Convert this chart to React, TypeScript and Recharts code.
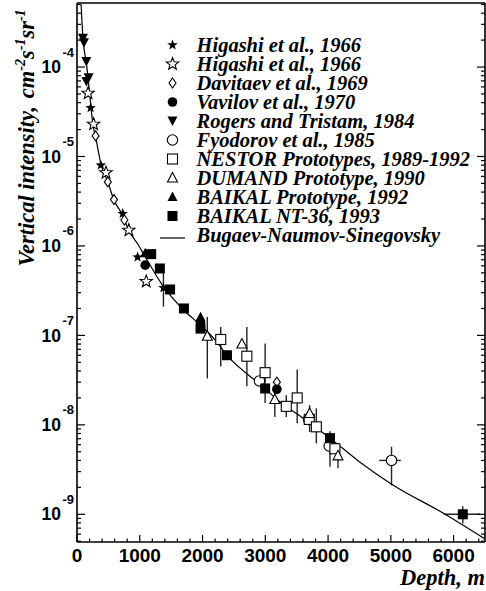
import React from 'react';
import { ComposedChart, XAxis, YAxis, Scatter, Line, ErrorBar } from 'recharts';

const W = 486;
const H = 591;
const SANS = '"Liberation Sans", Arial, Helvetica, sans-serif';
const SERIF = '"Liberation Serif", "Times New Roman", Times, serif';

// [depth m, intensity, yLow, yHigh, xLow, xHigh]
type Pt = [number, number, number?, number?, number?, number?];

const HIGASHI_A: Pt[] = [[217, 3.5e-5], [380, 8.0e-6], [728, 2.3e-6], [965, 7.5e-7], [1377, 3.4e-7, 2.1e-7, 5.0e-7]];
const HIGASHI_B: Pt[] = [[177, 5.1e-5], [264, 2.3e-5], [462, 6.6e-6], [826, 1.5e-6], [1103, 4.0e-7]];
const DAVITAEV: Pt[] = [[296, 1.7e-5], [491, 5.2e-6], [589, 3.3e-6], [755, 1.95e-6], [3184, 3.0e-8]];
const VAVILOV: Pt[] = [[1087, 6.1e-7], [1968, 1.4e-7], [3184, 2.5e-8]];
const ROGERS: Pt[] = [[95, 2.1e-4], [111, 1.87e-4], [149, 1.15e-4], [185, 7.6e-5], [150, 6.9e-5]];
const FYODOROV: Pt[] = [[2907, 3.1e-8], [3690, 1.15e-8], [4017, 5.8e-9], [5011, 4.0e-9, 2.1e-9, 5.7e-9, 4816, 5158]];
const NESTOR: Pt[] = [
  [2290, 9.0e-8, 4.5e-8, 1.24e-7], [2706, 5.85e-8, 2.7e-8, 1.24e-7], [2997, 3.83e-8, 1.75e-8, 8.1e-8],
  [3334, 1.61e-8, 1.22e-8, 2.14e-8], [3508, 2.0e-8, 1.04e-8, 4.16e-8], [3700, 1.15e-8],
  [3813, 9.5e-9, 6.2e-9, 1.53e-8], [4109, 5.4e-9],
];
const DUMAND: Pt[] = [
  [2076, 9.8e-8, 3.3e-8, 1.61e-7], [2627, 8.0e-8], [3152, 1.92e-8, 1.22e-8, 2.6e-8],
  [3706, 1.34e-8, 8.3e-9, 1.66e-8], [4158, 4.5e-9, 3.27e-9, 5.5e-9],
];
const BAIKAL_PROTO: Pt[] = [[1087, 8.3e-7], [1968, 1.6e-7]];
const BAIKAL_NT36: Pt[] = [
  [1182, 8.1e-7], [1320, 5.6e-7], [1483, 3.26e-7], [1704, 2.0e-7], [1968, 1.19e-7], [2389, 6.0e-8],
  [2997, 2.55e-8], [4030, 7.1e-9, 3.4e-9, 8.5e-9], [6146, 1.0e-9, 7.9e-10, 1.23e-9, 5845, 6419],
];

// Bugaev-Naumov-Sinegovsky curve
const CURVE_D = [65, 95, 150, 180, 220, 253, 300, 386, 491, 585, 728, 823, 968, 1071, 1361, 1704, 1968, 2206, 2389, 2997, 3206, 3508, 4030, 4472, 5000, 5845, 6500];
const CURVE_V = [5.0e-4, 2.1e-4, 1.1e-4, 7.2e-5, 3.7e-5, 2.3e-5, 1.6e-5, 8.0e-6, 5.2e-6, 3.3e-6, 2.2e-6, 1.5e-6, 1.05e-6, 7.9e-7, 3.65e-7, 1.91e-7, 1.3e-7, 8.8e-8, 6.0e-8, 2.55e-8, 1.87e-8, 1.32e-8, 7.1e-9, 4.0e-9, 2.2e-9, 1.02e-9, 5.3e-10];

const X_DOMAIN = [0, 6500];
const Y_DOMAIN = [4.9e-10, 5.2e-4];
const X_TICKS = Array.from({ length: 33 }, (_, i) => i * 200);
const Y_DECADES = [-10, -9, -8, -7, -6, -5, -4];
const Y_TICKS = Y_DECADES.flatMap((e) => [1, 2, 3, 4, 5, 6, 7, 8, 9].map((m) => m * Math.pow(10, e)))
  .filter((v) => v >= Y_DOMAIN[0] && v <= Y_DOMAIN[1]);

const LEGEND = [
  { kind: 'starF', label: 'Higashi et al., 1966' },
  { kind: 'starO', label: 'Higashi et al., 1966' },
  { kind: 'diamond', label: 'Davitaev et al., 1969' },
  { kind: 'circleF', label: 'Vavilov et al., 1970' },
  { kind: 'triDown', label: 'Rogers and Tristam, 1984' },
  { kind: 'circleO', label: 'Fyodorov et al., 1985' },
  { kind: 'squareO', label: 'NESTOR Prototypes, 1989-1992' },
  { kind: 'triO', label: 'DUMAND Prototype, 1990' },
  { kind: 'triF', label: 'BAIKAL Prototype, 1992' },
  { kind: 'squareF', label: 'BAIKAL NT-36, 1993' },
  { kind: 'line', label: 'Bugaev-Naumov-Sinegovsky' },
];

const toRows = (pts: Pt[]) =>
  pts.map(([d, v, lo, hi, xlo, xhi]) => ({
    d,
    v,
    ey: lo != null && hi != null ? [v - lo, hi - v] : undefined,
    ex: xlo != null && xhi != null ? [d - xlo, xhi - d] : undefined,
  }));

const curveRows = CURVE_D.map((d, i) => ({ d, v: CURVE_V[i] }));

function starPoints(cx: number, cy: number, R: number) {
  const pts: string[] = [];
  for (let i = 0; i < 10; i++) {
    const r = i % 2 === 0 ? R : R * 0.42;
    const a = -Math.PI / 2 + (i * Math.PI) / 5;
    pts.push(`${cx + r * Math.cos(a)},${cy + r * Math.sin(a)}`);
  }
  return pts.join(' ');
}

function drawSymbol(kind: string, cx: number, cy: number) {
  const open = { fill: '#fff', stroke: '#000', strokeWidth: 1.1 };
  switch (kind) {
    case 'starF':
      return <polygon points={starPoints(cx, cy, 5.5)} fill="#000" />;
    case 'starO':
      return <polygon points={starPoints(cx, cy, 6.5)} {...open} />;
    case 'diamond':
      return <polygon points={`${cx},${cy - 5} ${cx + 3.5},${cy} ${cx},${cy + 5} ${cx - 3.5},${cy}`} {...open} />;
    case 'circleF':
      return <circle cx={cx} cy={cy} r={4.8} fill="#000" />;
    case 'triDown':
      return <polygon points={`${cx - 5},${cy - 4.5} ${cx + 5},${cy - 4.5} ${cx},${cy + 5}`} fill="#000" />;
    case 'circleO':
      return <circle cx={cx} cy={cy} r={5.2} {...open} />;
    case 'squareO':
      return <rect x={cx - 5} y={cy - 5} width={10} height={10} {...open} />;
    case 'triO':
      return <polygon points={`${cx},${cy - 5.5} ${cx + 5},${cy + 4} ${cx - 5},${cy + 4}`} {...open} />;
    case 'triF':
      return <polygon points={`${cx},${cy - 5.5} ${cx + 5},${cy + 4} ${cx - 5},${cy + 4}`} fill="#000" />;
    case 'squareF':
      return <rect x={cx - 5} y={cy - 5} width={10} height={10} fill="#000" />;
    default:
      return null;
  }
}

const SERIES = [
  { kind: 'starO', pts: HIGASHI_B },
  { kind: 'starF', pts: HIGASHI_A },
  { kind: 'diamond', pts: DAVITAEV },
  { kind: 'triDown', pts: ROGERS },
  { kind: 'circleO', pts: FYODOROV },
  { kind: 'squareO', pts: NESTOR },
  { kind: 'triO', pts: DUMAND },
  { kind: 'triF', pts: BAIKAL_PROTO },
  { kind: 'circleF', pts: VAVILOV },
  { kind: 'squareF', pts: BAIKAL_NT36 },
];

const isMajorY = (v: number) => {
  const e = Math.round(Math.log10(v));
  return Math.abs(v / Math.pow(10, e) - 1) < 1e-6;
};

const XTickBottom = ({ x, y, payload }: any) => {
  const major = payload.value % 1000 === 0;
  return (
    <g>
      <line x1={x} x2={x} y1={y} y2={y - (major ? 7 : 3.5)} stroke="#000" strokeWidth={1.2} />
      {major && (
        <text x={x} y={y + 20} textAnchor="middle" style={{ fontFamily: SANS, fontWeight: 700, fontSize: 19 }} fill="#000">
          {payload.value}
        </text>
      )}
    </g>
  );
};

const XTickTop = ({ x, y, payload }: any) => {
  const major = payload.value % 1000 === 0;
  return <line x1={x} x2={x} y1={y} y2={y + (major ? 7 : 3.5)} stroke="#000" strokeWidth={1.2} />;
};

const YTickLeft = ({ x, y, payload }: any) => {
  const major = isMajorY(payload.value);
  const e = Math.round(Math.log10(payload.value));
  return (
    <g>
      <line x1={x} x2={x + (major ? 8 : 4)} y1={y} y2={y} stroke="#000" strokeWidth={1.2} />
      {major && (
        <g style={{ fontFamily: SANS, fontWeight: 700 }} fill="#000">
          <text x={x - 16} y={y + 6.2} textAnchor="end" fontSize={17.5}>10</text>
          <text x={x - 14.5} y={y - 10.5} textAnchor="start" fontSize={13}>{String(e)}</text>
        </g>
      )}
    </g>
  );
};

const YTickRight = ({ x, y, payload }: any) => {
  const major = isMajorY(payload.value);
  return <line x1={x} x2={x - (major ? 8 : 4)} y1={y} y2={y} stroke="#000" strokeWidth={1.2} />;
};

const axisLine = { stroke: '#000', strokeWidth: 1.6 };

export default function App() {
  return (
    <div style={{ position: 'absolute', left: 0, top: 0, width: W, height: H, background: '#fff' }}>
      <ComposedChart width={W} height={H} margin={{ top: 2, right: 0, bottom: 48, left: 76 }}>
        <XAxis
          dataKey="d"
          type="number"
          domain={X_DOMAIN}
          allowDataOverflow
          ticks={X_TICKS}
          interval={0}
          tick={<XTickBottom />}
          tickLine={false}
          tickSize={0}
          tickMargin={0}
          height={1}
          axisLine={axisLine}
        />
        <XAxis
          xAxisId="top"
          orientation="top"
          type="number"
          domain={X_DOMAIN}
          allowDataOverflow
          ticks={X_TICKS}
          interval={0}
          tick={<XTickTop />}
          tickLine={false}
          tickSize={0}
          tickMargin={0}
          height={1}
          axisLine={axisLine}
        />
        <YAxis
          dataKey="v"
          type="number"
          scale="log"
          domain={Y_DOMAIN}
          allowDataOverflow
          ticks={Y_TICKS}
          interval={0}
          tick={<YTickLeft />}
          tickLine={false}
          tickSize={0}
          tickMargin={0}
          width={1}
          axisLine={axisLine}
        />
        <YAxis
          yAxisId="right"
          orientation="right"
          type="number"
          scale="log"
          domain={Y_DOMAIN}
          allowDataOverflow
          ticks={Y_TICKS}
          interval={0}
          tick={<YTickRight />}
          tickLine={false}
          tickSize={0}
          tickMargin={0}
          width={1}
          axisLine={axisLine}
        />
        {SERIES.map((s, i) => (
          <Scatter
            key={i}
            data={toRows(s.pts)}
            dataKey="v"
            isAnimationActive={false}
            shape={(p: any) => drawSymbol(s.kind, p.cx, p.cy)}
          >
            <ErrorBar dataKey="ey" direction="y" width={0} stroke="#222" strokeWidth={1.4} />
            <ErrorBar dataKey="ex" direction="x" width={0} stroke="#222" strokeWidth={1.4} />
          </Scatter>
        ))}
        <Line
          data={curveRows}
          dataKey="v"
          type="monotone"
          dot={false}
          activeDot={false}
          stroke="#000"
          strokeWidth={1.2}
          isAnimationActive={false}
        />
      </ComposedChart>
      <svg width={W} height={H} style={{ position: 'absolute', left: 0, top: 0, pointerEvents: 'none' }}>
        {LEGEND.map((l, i) => {
          const cy = 45 + i * 19;
          return (
            <g key={i}>
              {l.kind === 'line' ? (
                <line x1={160} x2={185} y1={cy + 3} y2={cy + 3} stroke="#000" strokeWidth={1.2} />
              ) : (
                drawSymbol(l.kind, 172.5, cy)
              )}
              <text
                x={196.5}
                y={cy + 6.5}
                style={{ fontFamily: SERIF, fontWeight: 700, fontStyle: 'italic', fontSize: 20.5 }}
                fill="#000"
              >
                {l.label}
              </text>
            </g>
          );
        })}
        <text
          transform="translate(34,138) rotate(-90)"
          textAnchor="middle"
          style={{ fontFamily: SERIF, fontWeight: 700, fontStyle: 'italic', fontSize: 22.5 }}
          fill="#000"
        >
          Vertical intensity,
          <tspan dx={8}>cm</tspan>
          <tspan dy={-9} fontSize={14}>-2</tspan>
          <tspan dy={9}>s</tspan>
          <tspan dy={-9} fontSize={14}>-1</tspan>
          <tspan dy={9}>sr</tspan>
          <tspan dy={-9} fontSize={14}>-1</tspan>
        </text>
        <text
          x={485}
          y={585}
          textAnchor="end"
          style={{ fontFamily: SERIF, fontWeight: 700, fontStyle: 'italic', fontSize: 22.5 }}
          fill="#000"
        >
          Depth, m
        </text>
      </svg>
    </div>
  );
}
